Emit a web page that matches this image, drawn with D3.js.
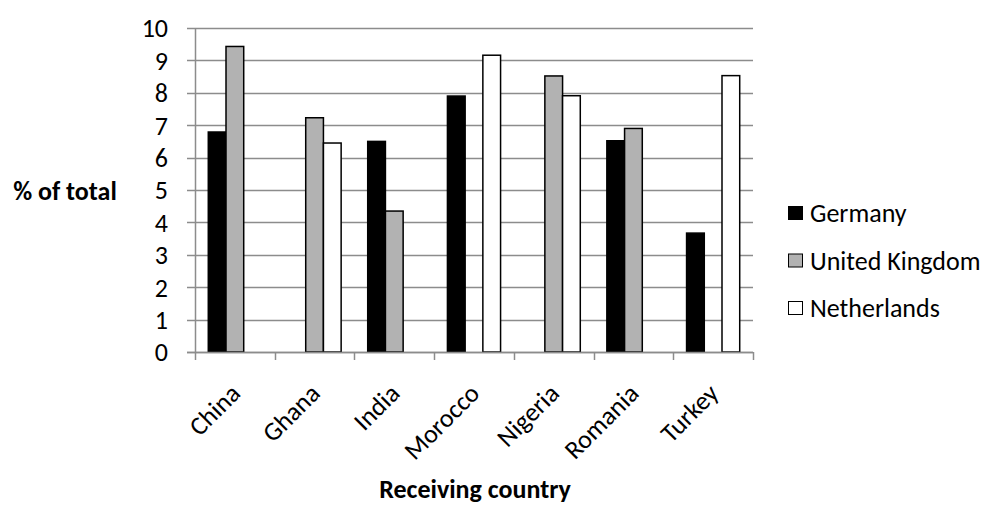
<!DOCTYPE html>
<html>
<head>
<meta charset="utf-8">
<script src="https://cdn.jsdelivr.net/npm/d3@7"></script>
<style>
  html, body { margin: 0; padding: 0; background: #fff; }
  svg { display: block; font-family: Carlito, "Open Sans", "Liberation Sans", sans-serif; }
</style>
</head>
<body>
<svg id="chart" width="984" height="506"></svg>
<script>
// Share of remittances by receiving country (% of total)
const countries = ["China", "Ghana", "India", "Morocco", "Nigeria", "Romania", "Turkey"];
const seriesNames = ["Germany", "United Kingdom", "Netherlands"];
const germany       = [6.79, null, 6.50, 7.90, null, 6.52, 3.67];
const unitedKingdom = [9.43, 7.23, 4.35, null, 8.52, 6.90, null];
const netherlands   = [null, 6.45, null, 9.16, 7.91, null, 8.53];
const yTicks = [0, 1, 2, 3, 4, 5, 6, 7, 8, 9, 10];
const fills = ["#000000", "#b2b2b2", "#ffffff"];

const seriesValues = [germany, unitedKingdom, netherlands];

const svg = d3.select("#chart");
const margin = { left: 195, right: 231, top: 28, bottom: 154 };
const W = 984, H = 506;
const x0 = margin.left, x1 = W - margin.right;
const yTop = margin.top, yBot = H - margin.bottom;

const x = d3.scaleBand().domain(countries).range([x0, x1]).paddingInner(0).paddingOuter(0);
// gap of 1.5 bar widths per category, split evenly on both sides
const bw = x.bandwidth() / 4.5;
const xs = d3.scaleBand().domain(seriesNames).range([0.75 * bw, 3.75 * bw]).padding(0);
const y = d3.scaleLinear().domain([0, 10]).range([yBot, yTop]);

// gridlines
svg.append("g")
  .selectAll("line")
  .data(yTicks)
  .join("line")
  .attr("x1", x0 - 8)
  .attr("x2", x1)
  .attr("y1", d => Math.round(y(d)) + 0.5)
  .attr("y2", d => Math.round(y(d)) + 0.5)
  .attr("stroke", "#8c8c8c")
  .attr("stroke-width", 1.5);

// y tick labels
svg.append("g")
  .selectAll("text")
  .data(yTicks)
  .join("text")
  .attr("x", 168)
  .attr("y", d => y(d))
  .attr("dy", "0.36em")
  .attr("text-anchor", "end")
  .attr("font-size", 26)
  .attr("fill", "#000")
  .text(d => d);

// bars
const rows = [];
countries.forEach((c, i) => {
  seriesNames.forEach((s, j) => {
    const v = seriesValues[j][i];
    if (v != null) rows.push({ c, s, v, j });
  });
});
svg.append("g")
  .selectAll("rect")
  .data(rows)
  .join("rect")
  .attr("x", d => x(d.c) + xs(d.s))
  .attr("width", xs.bandwidth())
  .attr("y", d => y(d.v))
  .attr("height", d => y(0) - y(d.v))
  .attr("fill", d => fills[d.j])
  .attr("stroke", "#000")
  .attr("stroke-width", 1.5);

// axes lines
svg.append("line")
  .attr("x1", x0 + 0.5).attr("x2", x0 + 0.5)
  .attr("y1", yTop).attr("y2", yBot)
  .attr("stroke", "#8c8c8c").attr("stroke-width", 1.5);
svg.append("line")
  .attr("x1", x0 - 8).attr("x2", x1)
  .attr("y1", Math.round(yBot) + 0.5).attr("y2", Math.round(yBot) + 0.5)
  .attr("stroke", "#8c8c8c").attr("stroke-width", 1.5);

// category tick marks
const catEdges = countries.map(c => x(c)).concat([x1]);
svg.append("g")
  .selectAll("line")
  .data(catEdges)
  .join("line")
  .attr("x1", d => Math.round(d) + 0.5)
  .attr("x2", d => Math.round(d) + 0.5)
  .attr("y1", yBot)
  .attr("y2", yBot + 8)
  .attr("stroke", "#8c8c8c")
  .attr("stroke-width", 1.5);

// rotated category labels
svg.append("g")
  .selectAll("text")
  .data(countries)
  .join("text")
  .attr("transform", d => `translate(${x(d) + x.bandwidth() / 2 + 7},${yBot + 43}) rotate(-45)`)
  .attr("text-anchor", "end")
  .attr("font-size", 26)
  .attr("fill", "#000")
  .text(d => d);

// axis titles
svg.append("text")
  .attr("x", 65).attr("y", 191)
  .attr("dy", "0.36em")
  .attr("text-anchor", "middle")
  .attr("font-size", 26)
  .attr("font-weight", "bold")
  .text("% of total");

svg.append("text")
  .attr("x", 475).attr("y", 489)
  .attr("dy", "0.36em")
  .attr("text-anchor", "middle")
  .attr("font-size", 26)
  .attr("font-weight", "bold")
  .text("Receiving country");

// legend
const legend = svg.append("g")
  .selectAll("g")
  .data(seriesNames)
  .join("g")
  .attr("transform", (d, i) => `translate(788,${213 + i * 47.5})`);
legend.append("rect")
  .attr("x", 0.5).attr("y", -6.5)
  .attr("width", 14).attr("height", 13)
  .attr("fill", (d, i) => fills[i])
  .attr("stroke", "#000")
  .attr("stroke-width", 1);
legend.append("text")
  .attr("x", 22).attr("y", 0)
  .attr("dy", "0.36em")
  .attr("font-size", 26)
  .attr("fill", "#000")
  .text(d => d);
</script>
</body>
</html>
